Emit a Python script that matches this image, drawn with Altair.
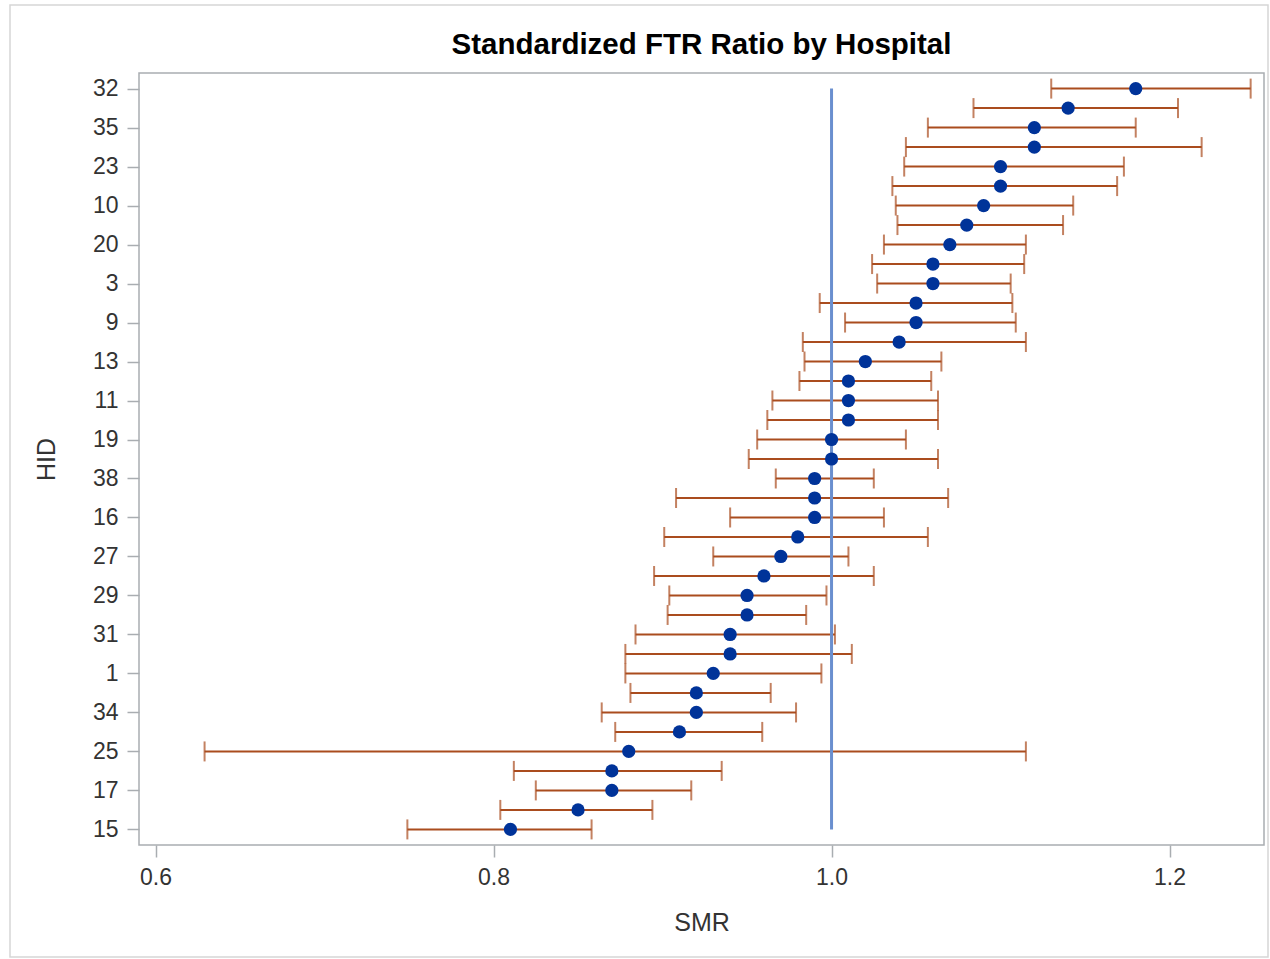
import altair as alt
import pandas as pd

# Hospital IDs, top to bottom (sorted by SMR descending)
hid = ["32", "22", "35", "7", "23", "36", "10", "5", "20", "28",
       "3", "14", "9", "2", "13", "33", "11", "8", "19", "24",
       "38", "12", "16", "39", "27", "6", "29", "30", "31", "18",
       "1", "37", "34", "4", "25", "26", "17", "21", "15"]
smr = [1.18, 1.14, 1.12, 1.12, 1.10, 1.10, 1.09, 1.08, 1.07, 1.06,
       1.06, 1.05, 1.05, 1.04, 1.02, 1.01, 1.01, 1.01, 1.00, 1.00,
       0.99, 0.99, 0.99, 0.98, 0.97, 0.96, 0.95, 0.95, 0.94, 0.94,
       0.93, 0.92, 0.92, 0.91, 0.88, 0.87, 0.87, 0.85, 0.81]
lower = [1.130, 1.084, 1.057, 1.044, 1.043, 1.036, 1.038, 1.039, 1.031, 1.024,
         1.027, 0.993, 1.008, 0.983, 0.984, 0.981, 0.965, 0.962, 0.956, 0.951,
         0.967, 0.908, 0.940, 0.901, 0.930, 0.895, 0.904, 0.903, 0.884, 0.878,
         0.878, 0.881, 0.864, 0.872, 0.629, 0.812, 0.825, 0.804, 0.749]
upper = [1.248, 1.205, 1.180, 1.219, 1.173, 1.169, 1.143, 1.137, 1.115, 1.114,
         1.106, 1.107, 1.109, 1.115, 1.065, 1.059, 1.063, 1.063, 1.044, 1.063,
         1.025, 1.069, 1.031, 1.057, 1.010, 1.025, 0.997, 0.985, 1.002, 1.012,
         0.994, 0.964, 0.979, 0.959, 1.115, 0.935, 0.917, 0.894, 0.858]
shown_labels = ["32", "35", "23", "10", "20", "3", "9", "13", "11", "19",
                "38", "16", "27", "29", "31", "1", "34", "25", "17", "15"]
x_ticks = [0.6, 0.8, 1.0, 1.2]
ref_value = 1.0

df = pd.DataFrame({"HID": hid, "SMR": smr, "lo": lower, "hi": upper})
ref = pd.DataFrame({"x": [ref_value], "top": [hid[0]], "bottom": [hid[-1]]})
frame_df = pd.DataFrame({"k": [0]})

font = "Liberation Sans"
bar_color = "#aa4c1e"
pt_color = "#003399"

xscale = alt.Scale(domain=[0.5902, 1.2559], nice=False, zero=False)
yscale = alt.Scale(type="point", padding=0.8, domain=hid)
yaxis = alt.Axis(values=shown_labels, title="HID")
yenc = alt.Y("HID:N", sort=None, scale=yscale, axis=yaxis)
xaxis = alt.Axis(values=x_ticks, format=".1f", title="SMR")

base = alt.Chart(df)

frame = alt.Chart(frame_df).mark_rect(filled=False, stroke="#d6d6d6", strokeWidth=1.5).encode(
    x=alt.value(-129), x2=alt.value(1129), y=alt.value(-68), y2=alt.value(884)
)

bars = base.mark_rule(color=bar_color, strokeWidth=2).encode(
    x=alt.X("lo:Q", scale=xscale, axis=xaxis),
    x2="hi:Q",
    y=yenc,
)
cap_lo = base.mark_tick(color=bar_color, size=20, thickness=2, orient="vertical").encode(
    x=alt.X("lo:Q", scale=xscale, axis=xaxis), y=yenc
)
cap_hi = base.mark_tick(color=bar_color, size=20, thickness=2, orient="vertical").encode(
    x=alt.X("hi:Q", scale=xscale, axis=xaxis), y=yenc
)
refline = alt.Chart(ref).mark_rule(color="#6a8fcf", strokeWidth=3).encode(
    x=alt.X("x:Q", scale=xscale, axis=xaxis),
    y=alt.Y("top:N", sort=None, scale=yscale, axis=yaxis),
    y2="bottom:N",
)
points = base.mark_point(filled=True, color=pt_color, size=175, opacity=1).encode(
    x=alt.X("SMR:Q", scale=xscale, axis=xaxis), y=yenc
)

chart = alt.layer(frame, bars, cap_lo, cap_hi, refline, points).properties(
    width=1125,
    height=772,
    autosize=alt.AutoSizeParams(type="none"),
    padding={"left": 139, "top": 73, "right": 6, "bottom": 114},
    title=alt.TitleParams("Standardized FTR Ratio by Hospital", font=font, fontSize=29.5,
                          fontWeight="bold", color="#000000", anchor="middle", offset=-56),
).configure_view(
    stroke="#a9adb1", strokeWidth=1.5
).configure_axis(
    labelFont=font, labelFontSize=23, labelColor="#333333",
    titleFont=font, titleFontSize=25, titleColor="#333333", titleFontWeight="normal",
    domain=False, grid=False, tickColor="#a9adb1", tickWidth=1.5, tickSize=12,
    labelPadding=9,
).configure_axisY(
    titlePadding=33
).configure_axisX(
    titlePadding=21
)

chart.save("out.html", embed_options={"renderer": "svg", "actions": False})
